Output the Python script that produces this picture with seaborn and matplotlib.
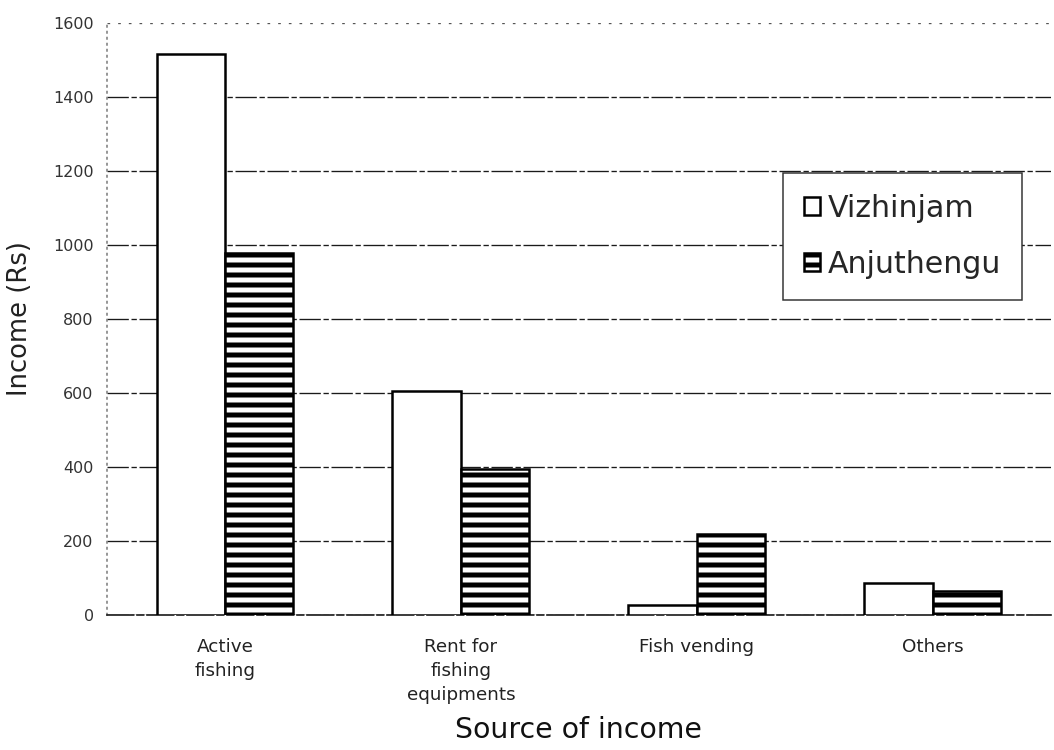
import matplotlib
matplotlib.use("Agg")
import matplotlib.pyplot as plt
from matplotlib.patches import Patch
import pandas as pd
import seaborn as sns

# Monthly income by source, two fishing villages
categories = ["Active\nfishing", "Rent for\nfishing\nequipments", "Fish vending", "Others"]
sites = ["Vizhinjam", "Anjuthengu"]
vizhinjam = [1515, 605, 27, 87]
anjuthengu = [978, 395, 218, 65]
y_ticks = [0, 200, 400, 600, 800, 1000, 1200, 1400, 1600]

df = pd.DataFrame({
    "source": categories * 2,
    "site": [sites[0]] * len(categories) + [sites[1]] * len(categories),
    "income": vizhinjam + anjuthengu,
})

sns.set_style("white")
plt.rcParams["font.family"] = ["DejaVu Sans"]
plt.rcParams["hatch.linewidth"] = 3.0

DPI = 120
fig = plt.figure(figsize=(1054 / DPI, 750 / DPI), dpi=DPI)
ax = fig.add_axes([0.1015, 0.18, 0.8955, 0.7893])

sns.barplot(
    data=df, x="source", y="income", hue="site",
    order=categories, hue_order=sites,
    palette=["white", "white"], saturation=1,
    edgecolor="black", linewidth=1.5, width=0.58,
    legend=False, ax=ax, zorder=3,
)

# horizontal stripes for the second village
for bar in ax.containers[1]:
    bar.set_hatch("--")
    bar.set_edgecolor("black")

ax.set_xlim(-0.5, 3.5)
ax.set_ylim(0, 1600)
ax.set_yticks(y_ticks)
ax.set_yticklabels([str(v) for v in y_ticks])

# grid and frame
ax.grid(axis="y", color="#1a1a1a", linestyle=(0, (16, 2, 4, 2)), linewidth=0.8, zorder=0)
ax.grid(axis="x", visible=False)
gl = ax.get_ygridlines()
gl[-1].set_linestyle((0, (2, 6)))
gl[-1].set_color("#555555")
for side in ("top", "right"):
    ax.spines[side].set_visible(False)
ax.spines["left"].set_color("#777777")
ax.spines["left"].set_linestyle((0, (1, 3)))
ax.spines["left"].set_linewidth(0.9)
ax.spines["bottom"].set_color("#1a1a1a")
ax.spines["bottom"].set_linestyle((0, (16, 2, 4, 2)))
ax.spines["bottom"].set_linewidth(1.0)

ax.tick_params(axis="y", length=0, pad=8, labelsize=9.6, labelcolor="#333333")
ax.tick_params(axis="x", length=0, pad=14, labelsize=11, labelcolor="#222222")
for lbl in ax.get_xticklabels():
    lbl.set_linespacing(1.4)

ax.set_ylabel("Income (Rs)", fontsize=15.5, color="#222222")
ax.yaxis.set_label_coords(-0.078, 0.5)
ax.set_xlabel("Source of income", fontsize=17, color="#111111")
ax.xaxis.set_label_coords(0.5, -0.17)

handles = [
    Patch(facecolor="white", edgecolor="black", linewidth=1.5, label=sites[0]),
    Patch(facecolor="white", edgecolor="black", linewidth=1.5, hatch="--", label=sites[1]),
]
leg = ax.legend(
    handles=handles, loc="upper left", bbox_to_anchor=(0.716, 0.747),
    borderaxespad=0, fontsize=18, frameon=True, fancybox=False,
    handlelength=0.55, handleheight=0.55, handletextpad=0.25,
    labelspacing=0.9, borderpad=0.7,
)
leg.get_frame().set_edgecolor("#333333")
leg.get_frame().set_linewidth(0.9)
leg.get_frame().set_facecolor("white")
leg.get_frame().set_alpha(1)
leg.set_zorder(5)

fig.savefig("out.png", dpi=DPI)
